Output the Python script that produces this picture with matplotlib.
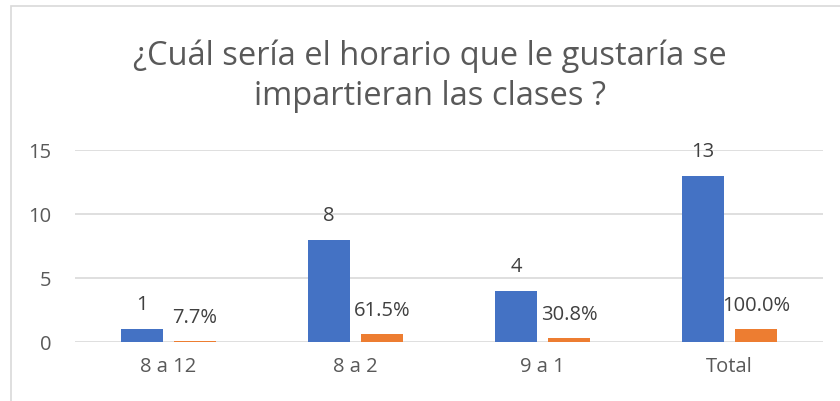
import numpy as np
import matplotlib
matplotlib.use("Agg")
from matplotlib import pyplot as plt
from matplotlib.patches import Rectangle

categories = ["8 a 12", "8 a 2", "9 a 1", "Total"]
counts = [1, 8, 4, 13]
shares = [0.077, 0.615, 0.308, 1.0]
share_labels = ["7.7%", "61.5%", "30.8%", "100.0%"]
y_ticks = [0, 5, 10, 15]
title_lines = ["¿Cuál sería el horario que le gustaría se", "impartieran las clases ?"]

plt.rcParams["font.family"] = ["Open Sans", "DejaVu Sans"]

fig = plt.figure(figsize=(8.4, 4.02), dpi=100)
ax = fig.add_axes([0.0893, 0.1468, 0.8905, 0.4776])

x = np.arange(len(categories))
w = 0.225
off = 0.142
ax.bar(x - off, counts, w, color="#4472C4", zorder=3)
ax.bar(x + off, shares, w, color="#ED7D31", zorder=3)

# labels sit ~25 px above the bar tops
for xi, c in zip(x, counts):
    ax.annotate(str(c), (xi - off, c), xytext=(0, 18), textcoords="offset points",
                ha="center", va="center", fontsize=14.5, color="#404040")
for xi, s, lab in zip(x, shares, share_labels):
    ax.annotate(lab, (xi + off, s), xytext=(0, 17.5), textcoords="offset points",
                ha="center", va="center", fontsize=14.5, color="#404040")

ax.set_xlim(-0.5, len(categories) - 0.5)
ax.set_ylim(0, 15)
ax.set_yticks(y_ticks)
ax.set_xticks(x)
ax.set_xticklabels(categories)
ax.tick_params(axis="both", length=0, labelsize=14.5, labelcolor="#595959")
ax.tick_params(axis="y", pad=17)
ax.tick_params(axis="x", pad=10)
ax.grid(axis="y", color="#D9D9D9", linewidth=1.2, zorder=0)
for s in ax.spines.values():
    s.set_visible(False)

fig.text(0.512, 1 - 65 / 402, title_lines[0], ha="center", va="baseline",
         fontsize=23.5, color="#595959")
fig.text(0.512, 1 - 105 / 402, title_lines[1], ha="center", va="baseline",
         fontsize=23.5, color="#595959")

fig.patches.append(Rectangle((11 / 840, -0.1), 1.2, 1 - 7 / 402 + 0.1, transform=fig.transFigure,
                             fill=False, edgecolor="#D9D9D9", linewidth=1.2))

fig.savefig("out.png", dpi=100)
